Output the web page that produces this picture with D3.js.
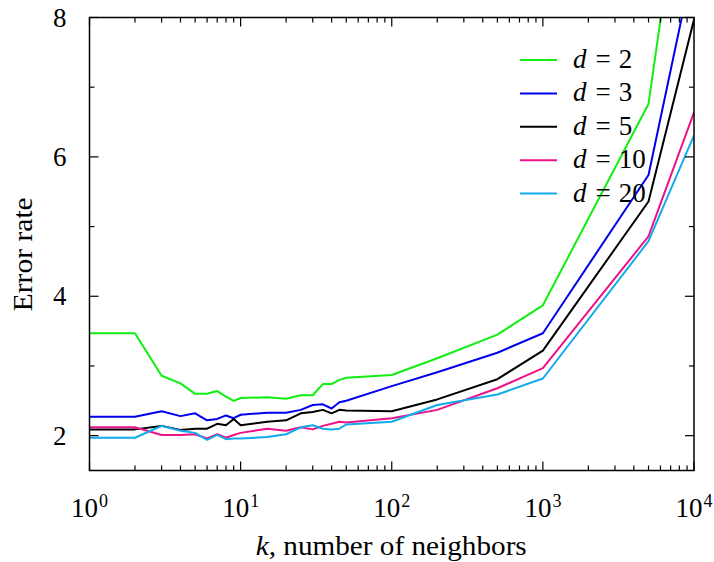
<!DOCTYPE html>
<html>
<head>
<meta charset="utf-8">
<script src="https://cdn.jsdelivr.net/npm/d3@7"></script>
<style>
	body { margin: 0; background: #fff; }
</style>
</head>
<body>
<div id="plot"></div>
<script>
// Values
const neighbors = [1, 2, 3, 4, 5, 6, 7, 8, 9, 10, 15, 20, 25, 30, 35, 40, 45, 50, 100, 200, 500, 1000, 5000, 10000];
const errorD2 = [3.47, 3.47, 2.86, 2.75, 2.60, 2.60, 2.64, 2.56, 2.50, 2.54, 2.55, 2.53, 2.58, 2.58, 2.74, 2.74, 2.80, 2.83, 2.87, 3.11, 3.45, 3.87, 6.76, 11.35];
const errorD3 = [2.27, 2.27, 2.35, 2.28, 2.32, 2.22, 2.24, 2.29, 2.25, 2.30, 2.33, 2.33, 2.37, 2.44, 2.45, 2.39, 2.48, 2.50, 2.71, 2.91, 3.19, 3.47, 5.74, 8.83];
const errorD5 = [2.09, 2.09, 2.14, 2.08, 2.10, 2.10, 2.17, 2.15, 2.24, 2.15, 2.20, 2.22, 2.32, 2.34, 2.37, 2.32, 2.37, 2.36, 2.35, 2.52, 2.81, 3.22, 5.36, 7.97];
const errorD10 = [2.12, 2.12, 2.01, 2.01, 2.02, 1.96, 2.02, 1.97, 2.01, 2.04, 2.10, 2.07, 2.12, 2.09, 2.14, 2.17, 2.20, 2.19, 2.25, 2.37, 2.68, 2.97, 4.86, 6.64];
const errorD20 = [1.97, 1.97, 2.14, 2.07, 2.04, 1.94, 2.01, 1.95, 1.96, 1.96, 1.98, 2.02, 2.12, 2.15, 2.10, 2.09, 2.10, 2.16, 2.20, 2.44, 2.59, 2.82, 4.79, 6.31];
const dimensions = ["2", "3", "5", "10", "20"];
const colors = ["#11ee11", "#0000ee", "#000000", "#ee1188", "#11aaee"];
const xTickPowers = [0, 1, 2, 3, 4];
const yTicks = [2, 4, 6, 8];
const yMinorTicks = [3, 5, 7];

const series = [errorD2, errorD3, errorD5, errorD10, errorD20];

const width = 714, height = 562;
const margins = { left: 89.5, right: 20, top: 17.5, bottom: 91.5 };
const innerWidth = width - margins.left - margins.right;
const innerHeight = height - margins.top - margins.bottom;
const fontFamily = "'Liberation Serif', 'Times New Roman', 'DejaVu Serif', serif";

const svg = d3.select("#plot")
	.append("svg")
		.attr("width", width).attr("height", height)
		.attr("font-family", fontFamily)
	.append("g")
		.attr("transform", `translate(${margins.left}, ${margins.top})`);

const xAxis = d3.scaleLog().domain([1, 10000]).range([0, innerWidth]);
const yAxis = d3.scaleLinear().domain([1.5, 8]).range([innerHeight, 0]);

svg.append("clipPath").attr("id", "clip")
	.append("rect").attr("width", innerWidth).attr("height", innerHeight);

// Lines
const line = d3.line().x((d, i) => xAxis(neighbors[i])).y(d => yAxis(d));
svg.append("g").attr("clip-path", "url(#clip)")
	.selectAll("path")
	.data(series)
	.enter()
	.append("path")
		.attr("d", line)
		.attr("fill", "none")
		.attr("stroke", (d, i) => colors[i])
		.attr("stroke-width", 2)
		.attr("stroke-linejoin", "round");

// Ticks on all four sides, pointing inward
const minorX = [];
for (let p = 0; p < 4; p++) for (let m = 2; m <= 9; m++) minorX.push(m * Math.pow(10, p));
const majorX = xTickPowers.map(p => Math.pow(10, p));

const ticks = svg.append("g").attr("stroke", "#000").attr("stroke-width", 1.2);
const addXTicks = (values, len) => {
	values.forEach(v => {
		const x = xAxis(v);
		ticks.append("line").attr("x1", x).attr("x2", x).attr("y1", innerHeight).attr("y2", innerHeight - len);
		ticks.append("line").attr("x1", x).attr("x2", x).attr("y1", 0).attr("y2", len);
	});
};
const addYTicks = (values, len) => {
	values.forEach(v => {
		const y = yAxis(v);
		ticks.append("line").attr("x1", 0).attr("x2", len).attr("y1", y).attr("y2", y);
		ticks.append("line").attr("x1", innerWidth).attr("x2", innerWidth - len).attr("y1", y).attr("y2", y);
	});
};
addXTicks(majorX, 9);
addXTicks(minorX, 5);
addYTicks(yTicks, 9);
addYTicks(yMinorTicks, 5);

svg.append("rect")
	.attr("width", innerWidth).attr("height", innerHeight)
	.attr("fill", "none").attr("stroke", "#000").attr("stroke-width", 1.5);

// Tick labels
xTickPowers.forEach(p => {
	const t = svg.append("text")
		.attr("x", xAxis(Math.pow(10, p)))
		.attr("y", innerHeight + 46)
		.attr("text-anchor", "middle")
		.attr("font-size", 27);
	t.append("tspan").text("10");
	t.append("tspan").attr("dx", 1).attr("dy", -10).attr("font-size", 18).text(p);
});

yTicks.forEach(v => {
	svg.append("text")
		.attr("x", -23)
		.attr("y", yAxis(v) + 9)
		.attr("text-anchor", "end")
		.attr("font-size", 27)
		.text(v);
});

// Axis titles
const xTitle = svg.append("text")
	.attr("x", xAxis(100) - 0.5)
	.attr("y", innerHeight + 84)
	.attr("text-anchor", "middle")
	.attr("font-size", 27)
	.attr("textLength", 271)
	.attr("lengthAdjust", "spacingAndGlyphs");
xTitle.append("tspan").attr("font-style", "italic").text("k");
xTitle.append("tspan").text(", number of neighbors");

svg.append("text")
	.attr("transform", `rotate(-90) translate(${-(yAxis(4) - 42)}, ${-margins.left + 32})`)
	.attr("text-anchor", "middle")
	.attr("font-size", 27)
	.attr("textLength", 114)
	.attr("lengthAdjust", "spacingAndGlyphs")
	.text("Error rate");

// Legend
const legend = svg.append("g").attr("transform", `translate(${520 - margins.left}, ${60 - margins.top})`);
dimensions.forEach((d, i) => {
	const g = legend.append("g").attr("transform", `translate(0, ${i * 33.4})`);
	g.append("line").attr("x1", 0).attr("x2", 37).attr("stroke", colors[i]).attr("stroke-width", 2);
	const t = g.append("text").attr("x", 53).attr("y", 8).attr("font-size", 27);
	t.append("tspan").attr("font-style", "italic").text("d");
	t.append("tspan").attr("dx", 9).text("=");
	t.append("tspan").attr("dx", 8).text(d);
});
</script>
</body>
</html>
